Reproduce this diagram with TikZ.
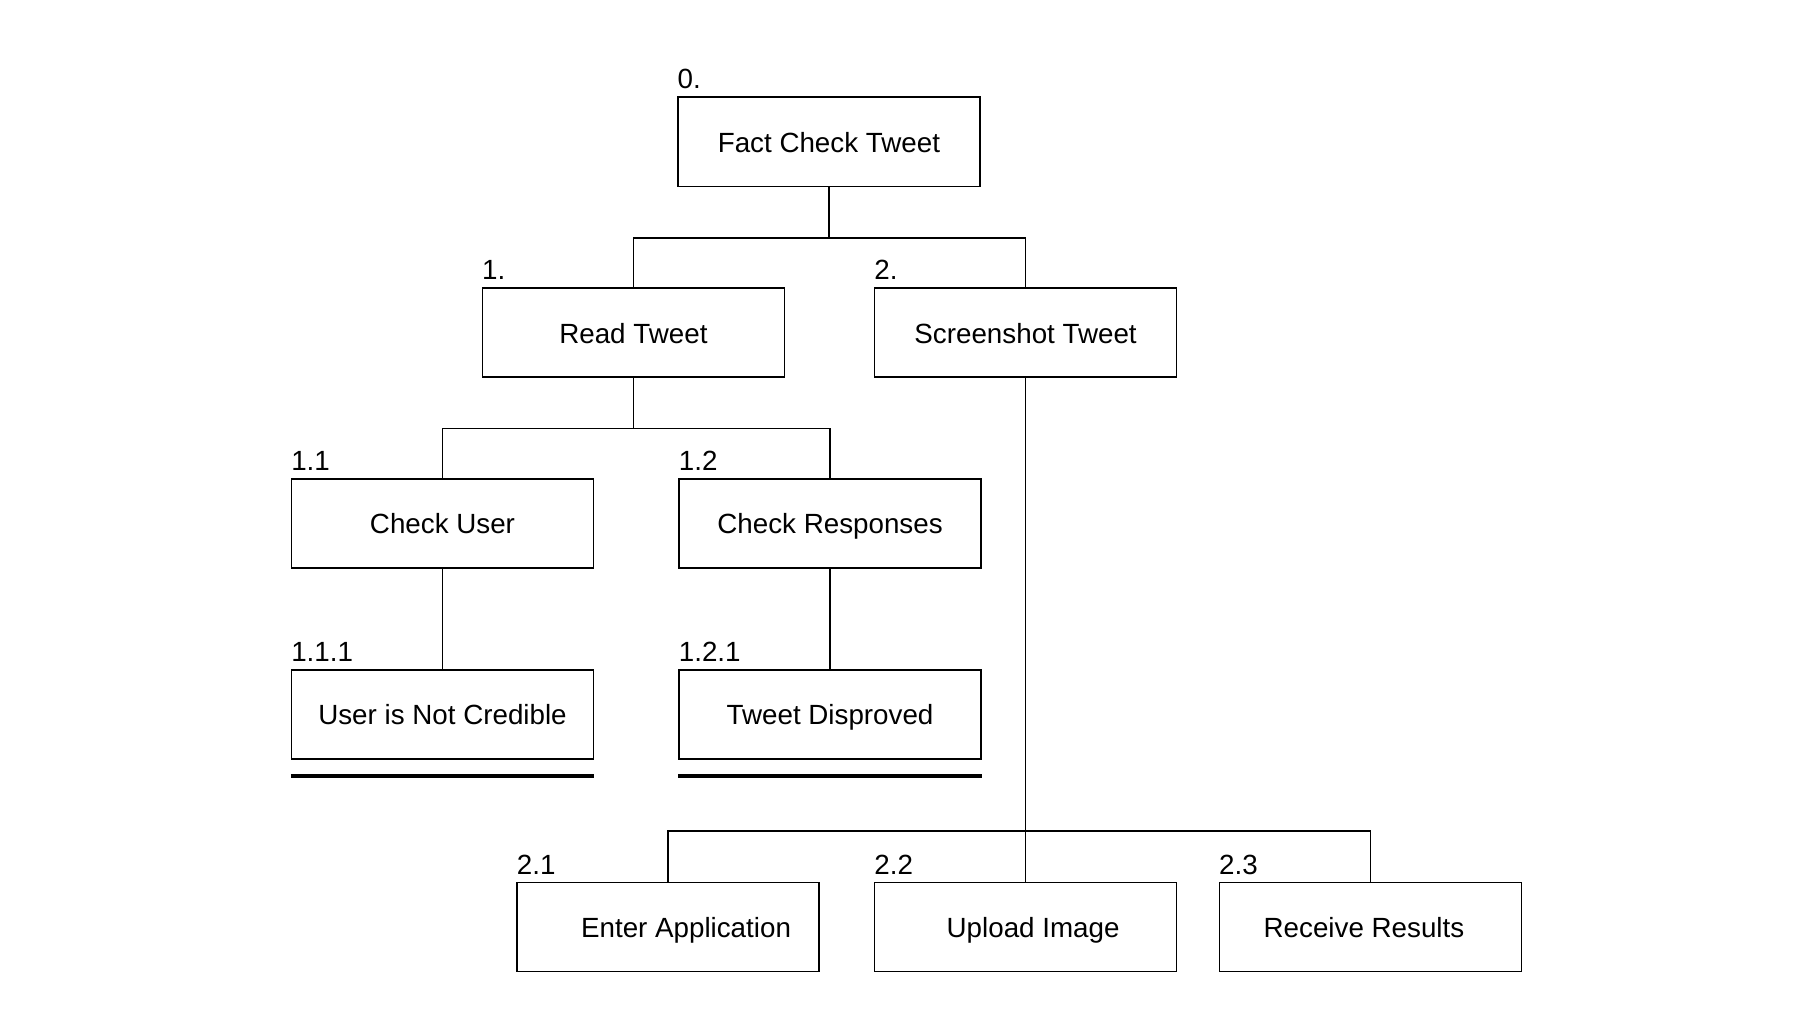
\documentclass[tikz,border=0pt]{standalone}
\usepackage{fontspec}
\setmainfont{Liberation Sans}
\usepackage{tikz}
\usetikzlibrary{positioning}

\begin{document}
\begin{tikzpicture}[
    x=0.5pt, y=-0.5pt,
    node distance=82.5pt,
    block/.style={rectangle, draw, line width=0.6pt, minimum width=130.5pt, minimum height=38.5pt, inner sep=0pt, text height=9pt, text depth=0pt, font=\fontsize{12}{14}\selectfont},
    idx/.style={label={[anchor=south west, inner sep=0pt, yshift=3pt, font=\fontsize{12}{14}\selectfont]north west:#1}},
    line/.style={draw, line width=0.6pt},
    bar/.style={draw, line width=2pt}
]
\useasboundingbox (0,0) rectangle (1568,893);

\node [block, idx=0.] at (716.5,122.5) (fct) {Fact Check Tweet};
\node [block, idx=1., below of=fct, xshift=-84.5pt] (read) {Read Tweet};
\node [block, idx=2., below of=fct, xshift=85pt] (shot) {Screenshot Tweet};
\node [block, idx=1.1, below of=read, xshift=-82.5pt] (user) {Check User};
\node [block, idx=1.2, below of=read, xshift=85pt] (resp) {Check Responses};
\node [block, idx=1.1.1, below of=user] (notcred) {User is Not Credible};
\node [block, idx=1.2.1, below of=resp] (disproved) {Tweet Disproved};
\node [block, idx=2.2, below of=shot, yshift=-174.5pt] (upload) {\hspace*{6.5pt}Upload Image};
\node [block, idx=2.1, left of=upload, node distance=154.5pt] (enter) {\hspace*{15.5pt}Enter Application};
\node [block, idx=2.3, right of=upload, node distance=149pt] (receive) {Receive Results\hspace*{5.5pt}};

\path [line] (fct.south) -- ++(0,-22pt) coordinate (bus0);
\path [line] (read.north) |- (bus0) -| (shot.north);
\path [line] (read.south) -- ++(0,-22pt) coordinate (bus1);
\path [line] (user.north) |- (bus1) -| (resp.north);
\path [line] (user) -- (notcred);
\path [line] (resp) -- (disproved);
\path [line] (shot) -- (upload);
\path [line] (upload.north) -- ++(0,22pt) coordinate (bus2);
\path [line] (enter.north) |- (bus2) -| (receive.north);

\path [bar] ([yshift=-7pt]notcred.south west) -- ([yshift=-7pt]notcred.south east);
\path [bar] ([yshift=-7pt]disproved.south west) -- ([yshift=-7pt]disproved.south east);
\end{tikzpicture}
\end{document}
